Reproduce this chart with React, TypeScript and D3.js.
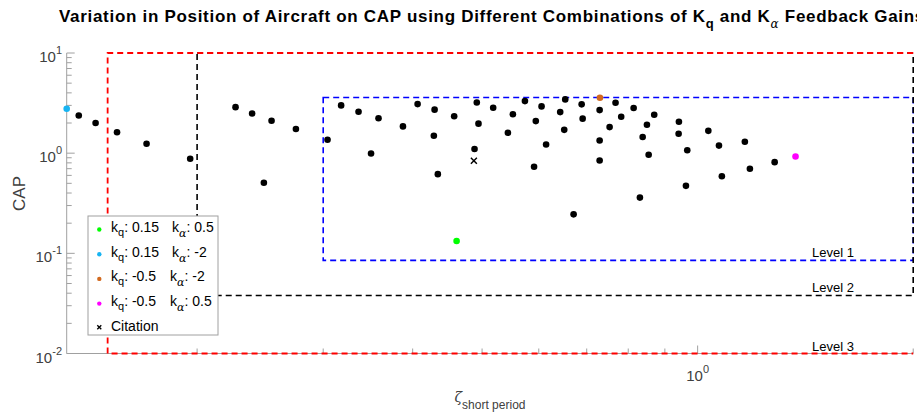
import React from "react";
import * as d3 from "d3";

// ---- data ----
const blackZeta = [0.1367,0.1443,0.1546,0.170,0.1956,0.2263,0.2387,0.2541,0.2748,0.3042,0.2479,0.3178,0.3361,0.3584,0.3877,0.3499,0.4064,0.4292,0.4571,0.4282,0.4337,0.4916,0.4943,0.4880,0.5182,0.5521,0.5433,0.5739,0.6054,0.5943,0.6143,0.5910,0.6533,0.6428,0.6512,0.6711,0.6887,0.6909,0.7297,0.7535,0.7297,0.7297,0.768,0.8140,0.7821,0.8697,0.8496,0.8380,0.8543,0.9416,0.9407,0.9672,0.8306,0.9631,1.035,1.071,1.081,1.164,1.183,1.281];
const blackCap = [2.38,2.00,1.62,1.24,0.879,2.88,2.49,2.11,1.74,1.36,0.507,3.00,2.59,2.23,1.85,0.993,3.09,2.72,2.34,1.49,0.617,3.21,1.97,1.10,2.84,2.45,1.60,3.31,2.93,2.09,1.22,0.731,3.44,2.57,1.71,0.245,3.07,2.21,2.69,1.82,1.34,0.845,3.19,2.82,2.31,2.42,1.92,1.45,0.964,2.06,1.56,1.07,0.360,0.472,1.67,1.19,0.588,1.30,0.698,0.813];

const comboKq = ["0.15", "0.15", "-0.5", "-0.5"];
const comboKa = ["0.5", "-2", "-2", "0.5"];
const comboZeta = [0.4607, 0.1315, 0.7304, 1.370];
const comboCap = [0.133, 2.78, 3.58, 0.927];
const comboColors = ["#00ff00", "#17b4f2", "#d2691e", "#ff00ff"];

const citationZeta = 0.4870;
const citationCap = 0.839;

// Level boundaries (zeta range, CAP range)
const level1 = { zeta: [0.3, 2.0], cap: [0.085, 3.6] };
const level2 = { zeta: [0.2, 2.0], cap: [0.038, 10] };
const level3 = { zeta: [0.15, 2.0], cap: [0.01, 10] };
const levelLabels = ["Level 1", "Level 2", "Level 3"];

const xDomain = [0.1315, 2.0];
const yDomain = [0.01, 10];
const yMajor = [0.01, 0.1, 1, 10];
const yMajorExp = ["-2", "-1", "0", "1"];
const xMajor = [1];
const xMajorExp = ["0"];

const W = 917, H = 418;
const FONT = "'Liberation Sans', Arial, Helvetica, sans-serif";

export default function App() {
  const x = d3.scaleLog().domain(xDomain).range([66.7, 913.2]);
  const y = d3.scaleLog().domain(yDomain).range([353.5, 53]);
  const axisColor = "#a0a0a0";
  const labelColor = "#404040";

  const yMinor: number[] = [];
  [0.01, 0.1, 1].forEach((d) => { for (let k = 2; k <= 9; k++) yMinor.push(d * k); });
  const xMinor: number[] = [];
  for (let k = 2; k <= 9; k++) xMinor.push(k / 10);
  xMinor.push(2);

  const dash = "6 4";
  const x0 = x.range()[0], x1 = x.range()[1];
  const yb = y.range()[0];

  const legendRows = [0, 1, 2, 3];
  const legX = 88, legY = 216;
  const rowY = (i: number) => legY + 16 + 24.7 * i;

  return (
    <svg width={W} height={H} style={{ position: "absolute", left: 0, top: 0, background: "#fff" }} fontFamily={FONT}>
      <rect x={0} y={0} width={W} height={H} fill="#fff" />
      {/* Title */}
      <text x={492} y={22} textAnchor="middle" fontSize={17} fontWeight="bold" fill="#000" letterSpacing={0.7}>
        Variation in Position of Aircraft on CAP using Different Combinations of K
        <tspan dy={6} fontSize={13}>q</tspan>
        <tspan dy={-6}> and K</tspan>
        <tspan dy={6} fontSize={12} fontStyle="italic" fontWeight="normal" fontFamily="'DejaVu Serif', serif">α</tspan>
        <tspan dy={-6}> Feedback Gains</tspan>
      </text>

      {/* Axes */}
      <line x1={x0} x2={x0} y1={y(10)} y2={yb} stroke={axisColor} strokeWidth={1} />
      <line x1={x0} x2={x1} y1={yb} y2={yb} stroke={axisColor} strokeWidth={1} />
      {yMajor.map((v) => (
        <line key={"ym" + v} x1={x0} x2={x0 + 8} y1={y(v)} y2={y(v)} stroke={axisColor} />
      ))}
      {yMinor.map((v) => (
        <line key={"yn" + v} x1={x0} x2={x0 + 5} y1={y(v)} y2={y(v)} stroke={axisColor} />
      ))}
      {xMajor.map((v) => (
        <line key={"xm" + v} x1={x(v)} x2={x(v)} y1={yb} y2={yb - 8} stroke={axisColor} />
      ))}
      {xMinor.map((v) => (
        <line key={"xn" + v} x1={x(v)} x2={x(v)} y1={yb} y2={yb - 5} stroke={axisColor} />
      ))}
      {yMajor.map((v, i) => (
        <text key={"yl" + v} x={62} y={y(v) + 9} textAnchor="end" fontSize={15} fill={labelColor}>
          10<tspan dy={-8} fontSize={11}>{yMajorExp[i]}</tspan>
        </text>
      ))}
      {xMajor.map((v, i) => (
        <text key={"xl" + v} x={x(v)} y={381} textAnchor="middle" fontSize={15} fill={labelColor}>
          10<tspan dy={-8} fontSize={11}>{xMajorExp[i]}</tspan>
        </text>
      ))}
      <text transform="translate(25,193.5) rotate(-90)" textAnchor="middle" fontSize={17} fill={labelColor}>CAP</text>
      <text x={490} y={402} textAnchor="middle" fontSize={14} fill={labelColor}>
        <tspan fontFamily="'DejaVu Serif', serif" fontStyle="italic">ζ</tspan>
        <tspan dy={7} fontSize={12}>short period</tspan>
      </text>

      {/* Level boundaries */}
      <rect x={x(level1.zeta[0])} y={y(level1.cap[1])} width={x(level1.zeta[1]) - x(level1.zeta[0])}
        height={y(level1.cap[0]) - y(level1.cap[1])} fill="none" stroke="#0000ff" strokeWidth={1.6} strokeDasharray={dash} />
      <rect x={x(level2.zeta[0])} y={y(level2.cap[1])} width={x(level2.zeta[1]) - x(level2.zeta[0])}
        height={y(level2.cap[0]) - y(level2.cap[1])} fill="none" stroke="#000" strokeWidth={1.6} strokeDasharray={dash} />
      <path d={`M${x(level3.zeta[1])},${y(level3.cap[1])} H${x(level3.zeta[0])} V${y(level3.cap[0])} H${x(level3.zeta[1])}`}
        fill="none" stroke="#ff0000" strokeWidth={1.8} strokeDasharray={dash} />
      {[level1, level2, level3].map((lv, i) => (
        <text key={"lv" + i} x={812} y={y(lv.cap[0]) - 3} fontSize={13} fill="#000">{levelLabels[i]}</text>
      ))}

      {/* Points */}
      {blackZeta.map((z, i) => (
        <circle key={"b" + i} cx={x(z)} cy={y(blackCap[i])} r={3.3} fill="#000" />
      ))}
      {comboZeta.map((z, i) => (
        <circle key={"c" + i} cx={x(z)} cy={y(comboCap[i])} r={3.3} fill={comboColors[i]} />
      ))}
      <g transform={`translate(${x(citationZeta)},${y(citationCap)})`} stroke="#000" strokeWidth={1.5}>
        <line x1={-3} y1={-3} x2={3} y2={3} />
        <line x1={-3} y1={3} x2={3} y2={-3} />
      </g>

      {/* Legend */}
      <rect x={legX} y={legY} width={130} height={119} fill="#fff" stroke="#a0a0a0" strokeWidth={1} />
      {legendRows.map((i) => (
        <g key={"lg" + i}>
          <circle cx={99.3} cy={rowY(i) - 2.5} r={2.2} fill={comboColors[i]} />
          <text x={111} y={rowY(i)} fontSize={14} fill="#000">
            k<tspan dy={4} fontSize={11}>q</tspan><tspan dy={-4}>{": " + comboKq[i]}</tspan>
          </text>
          <text x={i < 2 ? 172 : 170} y={rowY(i)} fontSize={14} fill="#000">
            k<tspan dy={5} fontSize={11} fontStyle="italic" fontFamily="'DejaVu Serif', serif">α</tspan><tspan dy={-5}>{": " + comboKa[i]}</tspan>
          </text>
        </g>
      ))}
      <g transform={`translate(99.3,${rowY(4) - 3.5})`} stroke="#000" strokeWidth={1.3}>
        <line x1={-2} y1={-2} x2={2} y2={2} />
        <line x1={-2} y1={2} x2={2} y2={-2} />
      </g>
      <text x={111} y={rowY(4)} fontSize={14} fill="#000">Citation</text>
    </svg>
  );
}
